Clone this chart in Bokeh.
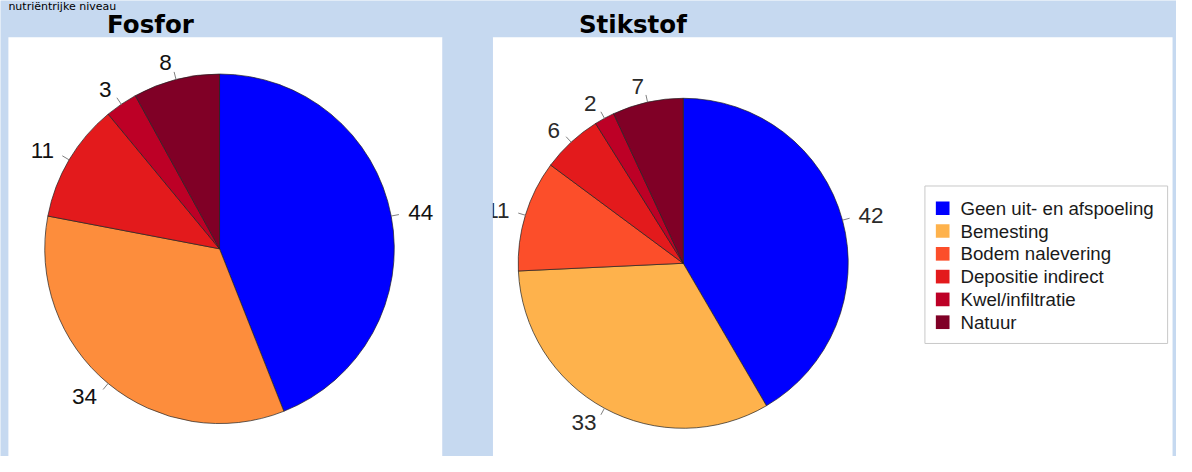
import math
from bokeh.plotting import figure
from bokeh.models import Range1d, ColumnDataSource
from bokeh.core.properties import value
from bokeh.embed import file_html
from bokeh.resources import INLINE

# ---------------- data ----------------
categories = ["Geen uit- en afspoeling", "Bemesting", "Bodem nalevering",
              "Depositie indirect", "Kwel/infiltratie", "Natuur"]
fosfor_values = [44, 34, 0, 11, 3, 8]
stikstof_values = [42, 33, 11, 6, 2, 7]
fosfor_colors = ["#0000ff", "#fd8d3c", "#fc4e2a", "#e31a1c", "#bd0026", "#800026"]
stikstof_colors = ["#0000ff", "#feb24c", "#fc4e2a", "#e31a1c", "#bd0026", "#800026"]
panel_titles = ["Fosfor", "Stikstof"]
header_text = "nutriëntrijke niveau"

# ---------------- layout ----------------
W, H = 1176, 456
SX, SY = W / 1192.0, H / 472.0
SR = (SX + SY) / 2.0
BG = "#c6d9f0"
LABEL_FONT = value("Liberation Sans")


def px(X):  # reference x -> data x
    return X * SX


def py(Y):  # reference y -> data y
    return H - Y * SY


p = figure(width=W, height=H, x_range=Range1d(0, W), y_range=Range1d(0, H),
           output_backend="svg", toolbar_location=None, min_border=0)
p.axis.visible = False
p.grid.visible = False
p.outline_line_color = None
p.background_fill_color = BG
p.border_fill_color = BG

# header line at the very top (kept small so it stays fully visible)
p.text(x=[px(8)], y=[py(6)], text=[header_text],
       text_font=value("DejaVu Sans"), text_font_size="11px",
       text_align="left", text_baseline="middle", text_color="#000000")

# white panels
p.quad(left=[px(8), px(499)], right=[px(448), px(1188)],
       top=[py(38), py(38)], bottom=[py(480), py(480)],
       fill_color="white", line_color=None)

# titles
p.text(x=[px(152), px(641)], y=[py(25), py(25)], text=panel_titles,
       text_font=value("DejaVu Sans"), text_font_style="bold",
       text_font_size="24.5px", text_align="center", text_baseline="middle",
       text_color="#000000")


def draw_pie(values, colors, cx, cy, r, label_color):
    total = float(sum(values))
    cum = 0.0
    starts, ends, fills, mids, labels = [], [], [], [], []
    for v, c in zip(values, colors):
        if v <= 0:
            continue
        f0 = cum / total
        cum += v
        f1 = cum / total
        starts.append(math.pi / 2 - 2 * math.pi * f0)
        ends.append(math.pi / 2 - 2 * math.pi * f1)
        mids.append(math.pi / 2 - 2 * math.pi * (f0 + f1) / 2)
        fills.append(c)
        labels.append(str(v))
    src = ColumnDataSource(dict(start=starts, end=ends, color=fills))
    p.wedge(x=cx, y=cy, radius=r, start_angle="start", end_angle="end",
            direction="clock", fill_color="color", line_color="#222222",
            line_width=0.7, source=src)
    for am, lab in zip(mids, labels):
        ux, uy = math.cos(am), math.sin(am)
        p.segment(x0=[cx + r * ux], y0=[cy + r * uy],
                  x1=[cx + 1.045 * r * ux], y1=[cy + 1.045 * r * uy],
                  line_color="#808080", line_width=1)
        right = ux > 0
        p.text(x=[cx + 1.1 * r * ux], y=[cy + 1.1 * r * uy], text=[lab],
               text_font=LABEL_FONT, text_font_size="22.5px",
               text_align="left" if right else "right",
               text_baseline="middle", text_color=label_color)


draw_pie(fosfor_values, fosfor_colors, px(222), py(257), 179 * SR, "#111111")
draw_pie(stikstof_values, stikstof_colors, px(692), py(272), 169 * SR, "#2a2a2a")

# blue gap between the two panels (clips labels running past the panel edge)
p.quad(left=[px(448)], right=[px(499)], top=[py(38)], bottom=[py(480)],
       fill_color=BG, line_color=None)

# legend (for Stikstof)
p.quad(left=[px(937)], right=[px(1183)], top=[py(192)], bottom=[py(355)],
       fill_color="white", line_color="#c8c8c8", line_width=1)
row_y = [py(215 + i * 23.6) for i in range(len(categories))]
p.rect(x=[px(955)] * len(categories), y=row_y, width=14 * SR, height=14 * SR,
       fill_color=stikstof_colors, line_color=None)
p.text(x=[px(973)] * len(categories), y=row_y, text=categories,
       text_font=LABEL_FONT, text_font_size="18.7px", text_align="left",
       text_baseline="middle", text_color="#1a1a1a")

open("out.html", "w").write(file_html(p, INLINE))
